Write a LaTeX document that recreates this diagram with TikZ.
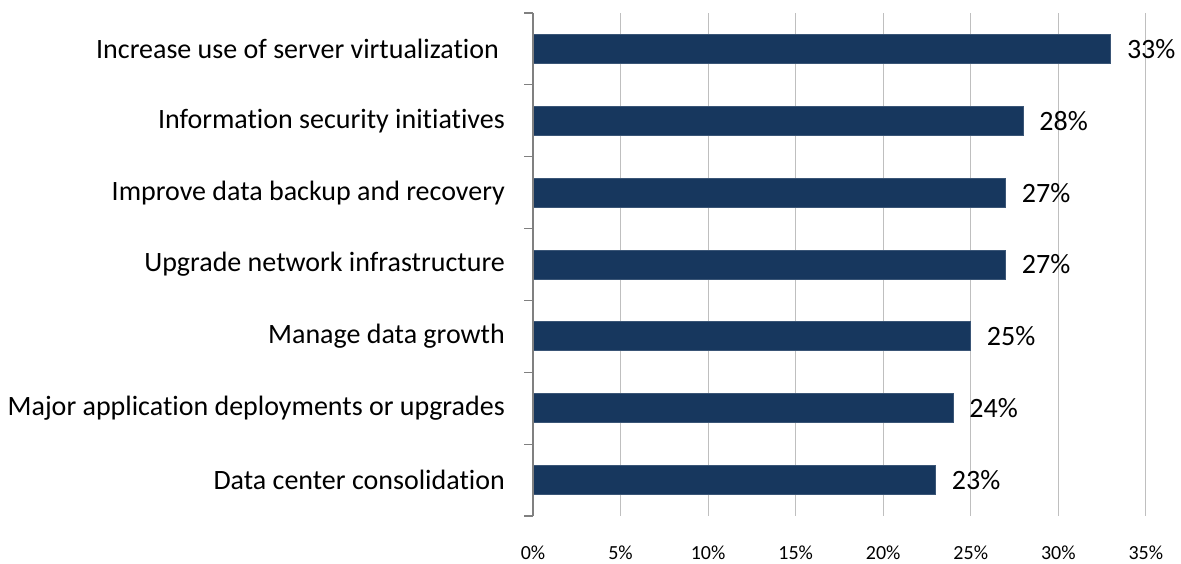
\documentclass[tikz,border=0pt]{standalone}
\usepackage{fontspec}
\setmainfont{Carlito}[Ligatures=NoCommon]
\definecolor{barblue}{HTML}{17375E}
\definecolor{gridgray}{HTML}{BFBFBF}
\definecolor{axisgray}{HTML}{808080}
\tikzset{
  bar/.style={fill=barblue, draw=barblue!85!white, line width=0.8pt},
  catlabel/.style={anchor=east, inner sep=0pt, font=\fontsize{28}{32}\selectfont},
  vallabel/.style={anchor=west, inner sep=0pt, font=\fontsize{28}{32}\selectfont},
  pctlabel/.style={inner sep=0pt, font=\fontsize{20}{24}\selectfont},
}
\begin{document}
\begin{tikzpicture}[x=1pt,y=-1pt]
    \useasboundingbox (0,0) rectangle (1181,563);
    % grid and percent scale
    \foreach \p in {0,5,...,35} {
        \ifnum\p>0 \draw[gridgray,line width=1pt] (533+\p*17.51,13) -- (533+\p*17.51,516); \fi
        \node[pctlabel] (pct\p) at (533+\p*17.51,553) {\p\%};
    }
    % bars
    \foreach \name/\v [count=\i] in {Increase use of server virtualization\kern6pt/33,
        Information security initiatives/28, Improve data backup and recovery/27,
        Upgrade network infrastructure/27, Manage data growth/25,
        Major application deployments or upgrades/24, Data center consolidation/23} {
        \pgfmathsetmacro\yc{13+(\i-0.5)*71.86}
        \draw[bar] (533,\yc-14.5) rectangle (533+\v*17.51,\yc+14.5);
        \node[catlabel] (cat\i) at (505,\yc) {\name};
        \node[vallabel] (val\i) at (533+\v*17.51+16,\yc) {\v\%};
    }
    % axis with ticks
    \draw[axisgray,line width=1.2pt] (533,13) -- (533,516);
    \foreach \j in {0,...,7}
        \draw[axisgray,line width=1.2pt] (524,13+\j*71.86) -- (533,13+\j*71.86);
\end{tikzpicture}
\end{document}
